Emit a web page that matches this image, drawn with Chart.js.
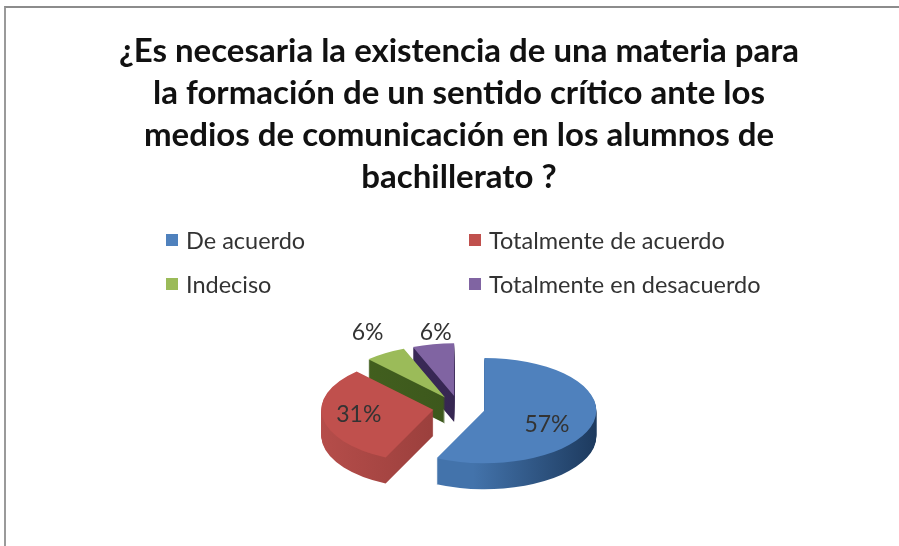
<!DOCTYPE html>
<html>
<head>
<meta charset="utf-8">
<script src="https://cdn.jsdelivr.net/npm/chart.js@4"></script>
<style>
  html, body { margin: 0; padding: 0; background: #fff; overflow: hidden; }
  #wrap { position: relative; width: 899px; height: 546px; }
  #frame { position: absolute; left: 4px; top: 6px; right: 0; bottom: 0; border-top: 2px solid #8c8c8c; border-left: 2px solid #9a9a9a; }
  canvas { position: absolute; left: 0; top: 0; }
  .key { position: absolute; font: 23.5px Lato, sans-serif; color: #333; white-space: nowrap; line-height: 26px; }
  .key i { position: absolute; left: -20px; top: 7px; width: 12px; height: 12px; }
</style>
</head>
<body>
<div id="wrap">
  <div id="frame"></div>
  <canvas id="pie" width="899" height="546"></canvas>
</div>
<script>
// Chart data
const titleLines = [
    '¿Es necesaria la existencia de una materia para',
    'la formación de un sentido crítico ante los',
    'medios de comunicación en los alumnos de',
    'bachillerato ?'
];
const categories = ['De acuerdo', 'Totalmente de acuerdo', 'Indeciso', 'Totalmente en desacuerdo'];
const percentages = [57, 31, 6, 6];

// Slice colours
const topColors = ['#4f81bd', '#c0504d', '#9bbb59', '#8064a2'];
const wallColors = [['#4373ab', '#1d3a5e'], ['#b54d4a', '#963d3a'], ['#44621f', '#3b561c'], ['#3d2c5e', '#35264f']];

// Fake 3D settings
const squash = 0.47;
const depth = 26;
const explode = 26;
const drawOrder = [3, 2, 1, 0];
const labelRadius = [0.62, 0.67, 1.41, 1.21];
const labelTurn = [13, 2, 3, 3];

function withSlice(ctx, arc, extraY, paint) {
    const mid = (arc.startAngle + arc.endAngle) / 2;
    ctx.save();
    ctx.translate(arc.x + Math.cos(mid) * explode, arc.y + Math.sin(mid) * explode * squash + extraY);
    ctx.scale(1, squash);
    ctx.translate(-arc.x, -arc.y);
    paint();
    ctx.restore();
}

function paintArc(ctx, arc, fill) {
    const saved = arc.options;
    arc.options = Object.assign({}, saved, { backgroundColor: fill });
    arc.draw(ctx);
    arc.options = saved;
}

const pie3d = {
    id: 'pie3d',
    beforeDatasetDraw(chart, args) {
        const ctx = chart.ctx;
        const arcs = args.meta.data;
        drawOrder.forEach(i => {
            const arc = arcs[i];
            const left = arc.x - arc.outerRadius;
            const wall = ctx.createLinearGradient(left, 0, left + arc.outerRadius * 2, 0);
            if (i === 0) {
                // only the blue slice spans the right half
                wall.addColorStop(0, wallColors[i][0]);
                wall.addColorStop(0.45, wallColors[i][0]);
                wall.addColorStop(1, wallColors[i][1]);
            } else {
                wall.addColorStop(0, wallColors[i][0]);
                wall.addColorStop(0.6, wallColors[i][1]);
            }
            for (let d = depth; d >= 1; d--) {
                withSlice(ctx, arc, d, () => paintArc(ctx, arc, wall));
            }
            withSlice(ctx, arc, 0, () => paintArc(ctx, arc, topColors[i]));
        });
        return false;
    },
    afterDatasetsDraw(chart) {
        const ctx = chart.ctx;
        chart.getDatasetMeta(0).data.forEach((arc, i) => {
            const mid = (arc.startAngle + arc.endAngle) / 2;
            const angle = mid + labelTurn[i] * Math.PI / 180;
            const r = arc.outerRadius * labelRadius[i];
            const x = arc.x + Math.cos(mid) * explode + Math.cos(angle) * r;
            const y = arc.y + (Math.sin(mid) * explode + Math.sin(angle) * r) * squash;
            ctx.save();
            ctx.font = '23px Lato, sans-serif';
            ctx.fillStyle = '#333';
            ctx.textAlign = 'center';
            ctx.textBaseline = 'middle';
            ctx.fillText(percentages[i] + '%', x, y);
            ctx.restore();
        });
    }
};

new Chart(document.getElementById('pie').getContext('2d'), {
    type: 'pie',
    data: {
        labels: categories,
        datasets: [{
            data: percentages,
            backgroundColor: topColors,
            borderWidth: 0,
            radius: 112
        }]
    },
    options: {
        responsive: false,
        animation: false,
        layout: { padding: { left: 19 } },
        plugins: {
            legend: { display: false },
            tooltip: { enabled: false },
            title: {
                display: true,
                text: titleLines,
                color: '#111',
                font: { family: 'Lato, sans-serif', size: 33, weight: 'bold', lineHeight: 1.264 },
                padding: { top: 31, bottom: 72 }
            }
        }
    },
    plugins: [pie3d]
});

// Two column legend
const keySpots = [[186, 227], [489, 227], [186, 271], [489, 271]];
categories.forEach((name, i) => {
    const key = document.createElement('div');
    key.className = 'key';
    key.style.left = keySpots[i][0] + 'px';
    key.style.top = keySpots[i][1] + 'px';
    key.textContent = name;
    const box = document.createElement('i');
    box.style.background = topColors[i];
    key.appendChild(box);
    document.getElementById('wrap').appendChild(key);
});
</script>
</body>
</html>
